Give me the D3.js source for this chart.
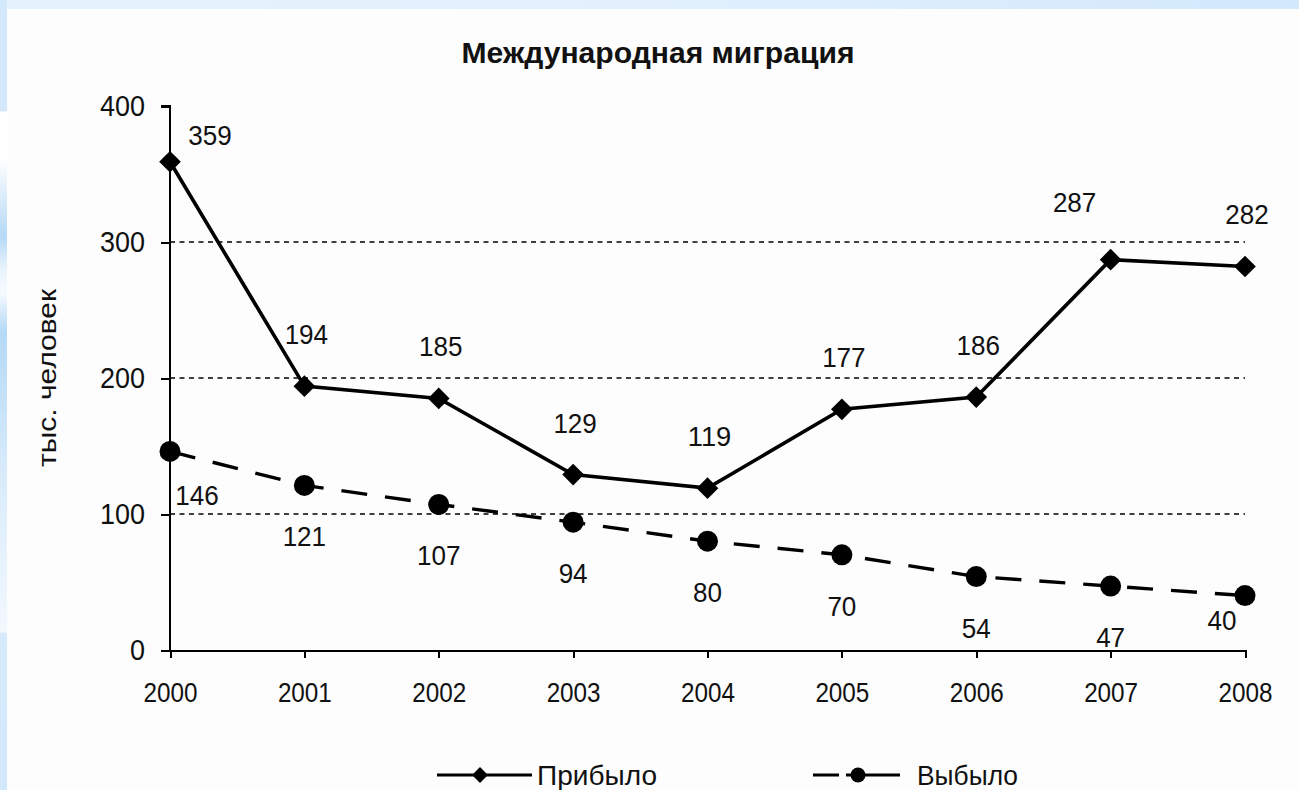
<!DOCTYPE html>
<html>
<head>
<meta charset="utf-8">
<script src="https://cdn.jsdelivr.net/npm/d3@7"></script>
<style>
  html, body { margin: 0; padding: 0; background: #fff; }
  svg { display: block; }
  text { font-family: "Liberation Sans", Arial, sans-serif; fill: #111; }
</style>
</head>
<body>
<svg id="chart" width="1299" height="790"></svg>
<script>
// International migration, thousand people
const years = [2000, 2001, 2002, 2003, 2004, 2005, 2006, 2007, 2008];
const arrived = [359, 194, 185, 129, 119, 177, 186, 287, 282];
const departed = [146, 121, 107, 94, 80, 70, 54, 47, 40];
const yTicks = [0, 100, 200, 300, 400];
const gridTicks = [100, 200, 300];
const seriesNames = ["Прибыло", "Выбыло"];
const chartTitle = "Международная миграция";
const yTitle = "тыс. человек";

const svg = d3.select("#chart");

// Narrow digits: squeeze numeric labels to a fixed advance per character
const squeeze = (sel, perChar) => sel
  .attr("textLength", function () { return this.textContent.length * perChar; })
  .attr("lengthAdjust", "spacingAndGlyphs");

// Page backdrop: pale blue frame strips
const defs = svg.append("defs");
const topGrad = defs.append("linearGradient").attr("id", "topGrad");
topGrad.append("stop").attr("offset", "0").attr("stop-color", "#e6f3fe");
topGrad.append("stop").attr("offset", "0.5").attr("stop-color", "#e2f0fd");
topGrad.append("stop").attr("offset", "1").attr("stop-color", "#d2e8fb");
const leftGrad = defs.append("linearGradient").attr("id", "leftGrad")
  .attr("x1", 0).attr("y1", 0).attr("x2", 0).attr("y2", 1);
[["0", "#d3e8fb"], ["0.14", "#d3e8fb"], ["0.142", "#ffffff"], ["0.2", "#ffffff"],
 ["0.3", "#b5d9f6"], ["0.34", "#e8f3fd"], ["0.37", "#f6faff"], ["0.42", "#b5d9f6"],
 ["0.6", "#d8ebfb"], ["0.8", "#f3f8fe"], ["0.802", "#d6eafb"], ["1", "#d2e8fb"]]
  .forEach(([o, c]) => leftGrad.append("stop").attr("offset", o).attr("stop-color", c));

svg.append("rect").attr("x", 0).attr("y", 0).attr("width", 1299).attr("height", 790).attr("fill", "#fdfdfd");
svg.append("rect").attr("x", 0).attr("y", 0).attr("width", 1299).attr("height", 9).attr("fill", "url(#topGrad)");
svg.append("rect").attr("x", 0).attr("y", 0).attr("width", 7).attr("height", 790).attr("fill", "url(#leftGrad)");

// Scales
const x = d3.scalePoint().domain(years).range([170, 1245]);
const y = d3.scaleLinear().domain([0, 400]).range([650, 106]);

// Title
svg.append("text")
  .attr("x", 658).attr("y", 63)
  .attr("text-anchor", "middle")
  .style("font-weight", "bold").style("font-size", "30px")
  .attr("textLength", 393).attr("lengthAdjust", "spacingAndGlyphs")
  .text(chartTitle);

// Y axis title
svg.append("text")
  .attr("transform", `translate(56,${(y(0) + y(400)) / 2}) rotate(-90)`)
  .attr("text-anchor", "middle")
  .style("font-size", "25px")
  .attr("textLength", 178).attr("lengthAdjust", "spacingAndGlyphs")
  .text(yTitle);

// Dashed gridlines
svg.append("g").selectAll("line").data(gridTicks).join("line")
  .attr("x1", x(years[0])).attr("x2", x(years[years.length - 1]))
  .attr("y1", d => y(d)).attr("y2", d => y(d))
  .attr("stroke", "#000").attr("stroke-width", 1.6)
  .attr("stroke-dasharray", "5,4.5");

// Y axis
const yAxis = svg.append("g").attr("transform", `translate(${x(years[0])},0)`)
  .call(d3.axisLeft(y).tickValues(yTicks).tickSize(9).tickPadding(16).tickSizeOuter(0));
yAxis.select(".domain").attr("stroke", "#000").attr("stroke-width", 2).attr("d", `M-9,${y(400)}H0V${y(0)}`);
yAxis.selectAll(".tick line").attr("stroke", "#000").attr("stroke-width", 2);
yAxis.selectAll(".tick text").style("font-size", "29px").style("font-family", null).attr("fill", "#111")
  .call(squeeze, 15);

// X axis
const xAxis = svg.append("g").attr("transform", `translate(0,${y(0)})`)
  .call(d3.axisBottom(x).tickSize(8).tickPadding(24).tickSizeOuter(0));
xAxis.select(".domain").attr("stroke", "#000").attr("stroke-width", 2);
xAxis.selectAll(".tick line").attr("stroke", "#000").attr("stroke-width", 2);
xAxis.selectAll(".tick text").style("font-size", "28px").style("font-family", null).attr("fill", "#111")
  .call(squeeze, 13.5);

svg.selectAll(".domain, .tick line").attr("shape-rendering", "crispEdges");

const line = d3.line().x((d, i) => x(years[i])).y(d => y(d));

// Departures (dashed)
svg.append("path").datum(departed)
  .attr("d", line).attr("fill", "none").attr("stroke", "#000")
  .attr("stroke-width", 3.4).attr("stroke-dasharray", "26,18");
// Arrivals (solid)
svg.append("path").datum(arrived)
  .attr("d", line).attr("fill", "none").attr("stroke", "#000")
  .attr("stroke-width", 3.6);

const diamond = d3.symbol().type(d3.symbolDiamond2);

svg.append("g").selectAll("path").data(arrived).join("path")
  .attr("d", diamond.size(300)())
  .attr("transform", (d, i) => `translate(${x(years[i])},${y(d)})`)
  .attr("fill", "#000");
svg.append("g").selectAll("circle").data(departed).join("circle")
  .attr("cx", (d, i) => x(years[i])).attr("cy", d => y(d)).attr("r", 10.5)
  .attr("fill", "#000");

// Value labels: arrivals above points, departures below
const arrivedNudge = { 2000: [40, -17], 2007: [-36, -48] };
const departedNudge = { 2000: [27, 54], 2008: [-23, 34] };

svg.append("g").selectAll("text").data(arrived).join("text")
  .attr("x", (d, i) => x(years[i]) + (arrivedNudge[years[i]] || [2, 0])[0])
  .attr("y", (d, i) => y(d) + (arrivedNudge[years[i]] || [0, -42])[1])
  .attr("text-anchor", "middle").style("font-size", "28px")
  .text(d => d)
  .call(squeeze, 14.5);
svg.append("g").selectAll("text").data(departed).join("text")
  .attr("x", (d, i) => x(years[i]) + (departedNudge[years[i]] || [0, 0])[0])
  .attr("y", (d, i) => y(d) + (departedNudge[years[i]] || [0, 61])[1])
  .attr("text-anchor", "middle").style("font-size", "28px")
  .text(d => d)
  .call(squeeze, 14.5);

// Legend
const legendY = 775;
const lg1 = svg.append("g");
lg1.append("line").attr("x1", 437).attr("x2", 532).attr("y1", legendY).attr("y2", legendY)
  .attr("stroke", "#000").attr("stroke-width", 3);
lg1.append("path").attr("d", diamond.size(160)())
  .attr("transform", `translate(480,${legendY})`).attr("fill", "#000");
lg1.append("text").attr("x", 537).attr("y", legendY + 10).style("font-size", "28px")
  .attr("textLength", 120).attr("lengthAdjust", "spacingAndGlyphs").text(seriesNames[0]);

const lg2 = svg.append("g");
lg2.append("line").attr("x1", 813).attr("x2", 900).attr("y1", legendY).attr("y2", legendY)
  .attr("stroke", "#000").attr("stroke-width", 3).attr("stroke-dasharray", "26,7,54");
lg2.append("circle").attr("cx", 858).attr("cy", legendY).attr("r", 7.5).attr("fill", "#000");
lg2.append("text").attr("x", 917).attr("y", legendY + 10).style("font-size", "28px")
  .attr("textLength", 101).attr("lengthAdjust", "spacingAndGlyphs").text(seriesNames[1]);
</script>
</body>
</html>
